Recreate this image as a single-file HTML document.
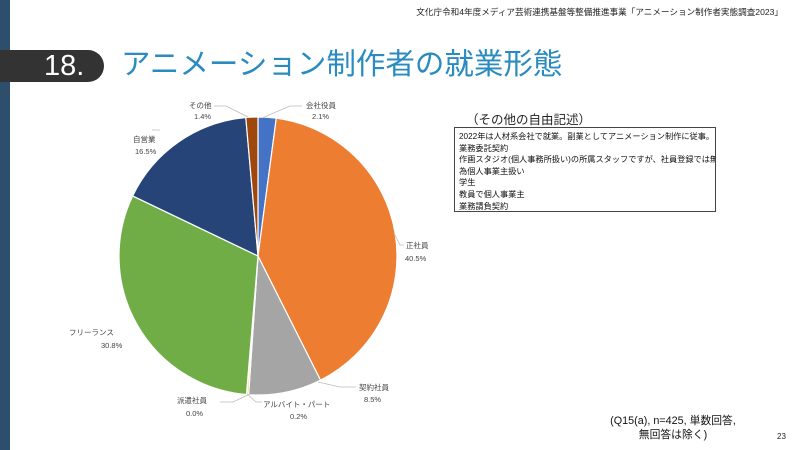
<!DOCTYPE html>
<html><head><meta charset="utf-8">
<style>
html,body{margin:0;padding:0;}
body{width:800px;height:450px;background:#fff;position:relative;overflow:hidden;font-family:"Liberation Sans","Noto Sans CJK JP",sans-serif;}
.side{position:absolute;left:0;top:0;width:10px;height:450px;background:#2d4f6b;}
.hdr{position:absolute;right:17px;top:6px;font-size:8.6px;color:#222;}
.badge{position:absolute;left:0;top:50px;width:104px;height:32px;background:#333;border-radius:0 16px 16px 0;}
.num{position:absolute;left:44px;top:48px;font-size:29px;color:#fff;line-height:36px;}
.title{position:absolute;left:121px;top:45px;font-size:29.5px;color:#2a8bc0;line-height:40px;}
.sub{position:absolute;left:466px;top:109px;font-size:12.5px;color:#222;}
.box{position:absolute;left:454px;top:127px;width:262px;height:85px;border:1px solid #444;font-size:8.2px;line-height:11.6px;padding:3px 0 0 4px;box-sizing:border-box;color:#111;white-space:nowrap;overflow:hidden;}
.note{position:absolute;left:598px;top:414px;font-size:10.8px;line-height:14px;text-align:center;color:#111;width:150px;}
.pg{position:absolute;left:777px;top:432px;font-size:8px;color:#222;}
svg{position:absolute;left:0;top:0;}
svg text{font-family:"Liberation Sans","Noto Sans CJK JP",sans-serif;font-size:7.5px;fill:#444;}
</style></head><body>
<div class="side"></div>
<div class="hdr">文化庁令和4年度メディア芸術連携基盤等整備推進事業「アニメーション制作者実態調査2023」</div>
<div class="badge"></div>
<div class="num">18.</div>
<div class="title">アニメーション制作者の就業形態</div>
<svg width="800" height="450" id="pie">
<g id="sl"></g>
<g stroke="#bbb" stroke-width="0.7" fill="none">
<polyline points="262,118 290,106 302,106"/>
<polyline points="248,117 226,106 214,106"/>
<polyline points="395,235 400,245 404,245"/>
<polyline points="318,382 340,387 356,387"/>
<polyline points="250,394 233,402 220,402"/>
<polyline points="247,394 256,402 262,402"/>
<polyline points="160,130 152,130"/>
</g>
<text x="306" y="108">会社役員</text><text x="312" y="119">2.1%</text>
<text x="189" y="108">その他</text><text x="194" y="119">1.4%</text>
<text x="133" y="142">自営業</text><text x="135" y="154">16.5%</text>
<text x="406" y="248">正社員</text><text x="405" y="261">40.5%</text>
<text x="69" y="335">フリーランス</text><text x="101" y="348">30.8%</text>
<text x="359" y="390">契約社員</text><text x="364" y="402">8.5%</text>
<text x="177" y="403">派遣社員</text><text x="186" y="416">0.0%</text>
<text x="263" y="407">アルバイト・パート</text><text x="290" y="419">0.2%</text>
</svg>
<div class="sub">（その他の自由記述）</div>
<div class="box">2022年は人材系会社で就業。副業としてアニメーション制作に従事。<br>業務委託契約<br>作画スタジオ(個人事務所扱い)の所属スタッフですが、社員登録では無い<br>為個人事業主扱い<br>学生<br>教員で個人事業主<br>業務請負契約</div>
<div class="note">(Q15(a), n=425, 単数回答,<br>無回答は除く)</div>
<div class="pg">23</div>
<script>
var d=[[2.1,"#4472c4"],[40.5,"#ed7d31"],[8.5,"#a5a5a5"],[0.2,"#ffc000"],[0.05,"#5b9bd5"],[30.8,"#70ad47"],[16.5,"#264478"],[1.4,"#9e480e"]];
var cx=258,cy=256,r=139,a=0,s="",tot=0;d.forEach(function(x){tot+=x[0];});
d.forEach(function(x){var a1=a+x[0]/tot*2*Math.PI;
var x0=cx+r*Math.sin(a),y0=cy-r*Math.cos(a),x1=cx+r*Math.sin(a1),y1=cy-r*Math.cos(a1);
s+='<path d="M'+cx+','+cy+' L'+x0+','+y0+' A'+r+','+r+' 0 '+((a1-a)>Math.PI?1:0)+' 1 '+x1+','+y1+' Z" fill="'+x[1]+'" stroke="#fff" stroke-width="1.2"/>';a=a1;});
document.getElementById("sl").innerHTML=s;
</script>
</body></html>
